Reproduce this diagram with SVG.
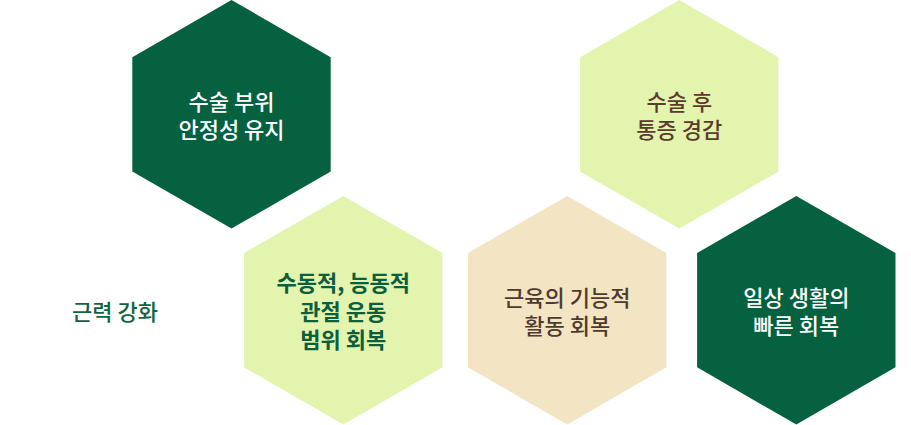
<svg xmlns="http://www.w3.org/2000/svg" width="911" height="425" viewBox="0 0 911 425">
  <defs>
    <polygon id="hex" points="0,-114.3 99.2,-57.15 99.2,57.15 0,114.3 -99.2,57.15 -99.2,-57.15"/>
  </defs>
  <style>
    text { font-family: "Noto Sans CJK KR", "Noto Sans", sans-serif; font-size: 22px; text-anchor: middle; dominant-baseline: central; }
    .dark { fill: #05613f; }
    .light { fill: #e2f4ae; }
    .beige { fill: #f3e5c3; }
    .tw { fill: #ffffff; font-weight: 500; }
    .tg { fill: #0d5e3d; font-weight: 700; }
    .tb { fill: #5a3b2c; font-weight: 500; }
    .tbe { fill: #4e3a2e; font-weight: 500; }
    .tgl { fill: #0e6640; font-weight: 500; }
  </style>
  <rect width="911" height="425" fill="#ffffff"/>
  <g id="connectors"/>
  <g id="node-strength">
    <text class="tgl" x="115" y="310">근력 강화</text>
  </g>
  <g id="node-stability">
    <use href="#hex" class="dark" x="231.5" y="114.3"/>
    <text class="tw" x="231.5" y="100">수술 부위</text>
    <text class="tw" x="231.5" y="128">안정성 유지</text>
  </g>
  <g id="node-rom">
    <use href="#hex" class="light" x="343.3" y="310.2"/>
    <text class="tg" x="343.3" y="281">수동적, 능동적</text>
    <text class="tg" x="343.3" y="309.5">관절 운동</text>
    <text class="tg" x="343.3" y="338">범위 회복</text>
  </g>
  <g id="node-pain">
    <use href="#hex" class="light" x="679.3" y="114.3"/>
    <text class="tb" x="679.3" y="100">수술 후</text>
    <text class="tb" x="679.3" y="128">통증 경감</text>
  </g>
  <g id="node-function">
    <use href="#hex" class="beige" x="567.2" y="310.2"/>
    <text class="tbe" x="567.2" y="296">근육의 기능적</text>
    <text class="tbe" x="567.2" y="324">활동 회복</text>
  </g>
  <g id="node-daily">
    <use href="#hex" class="dark" x="796.3" y="310.2"/>
    <text class="tw" x="796.3" y="296">일상 생활의</text>
    <text class="tw" x="796.3" y="324">빠른 회복</text>
  </g>
</svg>
